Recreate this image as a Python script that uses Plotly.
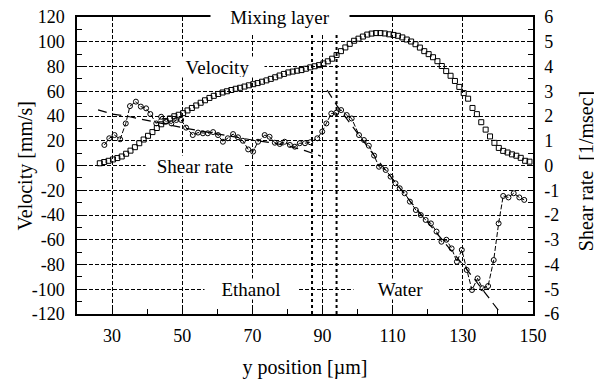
import plotly.graph_objects as go

# ---------------- data ----------------
vel_x = [26.5, 27.75, 29, 30.25, 31.5, 32.75, 34, 35.25, 36.5, 37.75, 39, 40.25, 41.5, 42.75,
         44, 45.25, 46.5, 47.75, 49, 50.25, 51.5, 52.75, 54, 55.25, 56.5, 57.75, 59, 60.25,
         61.5, 62.75, 64, 65.25, 66.5, 67.75, 69, 70.25, 71.5, 72.75, 74, 75.25, 76.5, 77.75,
         79, 80.25, 81.5, 82.75, 84, 85.25, 86.5, 87.75, 89, 90.25, 91.5, 92.75, 94, 95.25,
         96.5, 97.75, 99, 100.25, 101.5, 102.75, 104, 105.25, 106.5, 107.75, 109, 110.25,
         111.5, 112.75, 114, 115.25, 116.5, 117.75, 119, 120.25, 121.5, 122.75, 124, 125.25,
         126.5, 127.75, 129, 130.25, 131.5, 132.75, 134, 135.25, 136.5, 137.75, 139, 140.25,
         141.5, 142.75, 144, 145.25, 146.5, 147.75, 149]
vel_v = [1.8, 2.8, 3.8, 4.9, 6.0, 7.3, 9.5, 12, 14.8, 18, 21, 24, 27, 30.3,
         33.3, 36, 38, 39.8, 41, 42.3, 44.5, 46.5, 48.5, 50.7, 52.7, 54.6, 56.3, 57.8,
         59, 60, 61, 62, 62.8, 63.8, 64.8, 65.7, 66.6, 67.7, 68.8, 70, 71.3, 72.7,
         74, 75.2, 75.9, 76.6, 77.1, 78.2, 79.3, 80.2, 81.1, 82.5, 84.2, 86.3, 89.3, 92.4,
         95.4, 98.3, 100.8, 102.5, 104.2, 105.8, 106.6, 107, 107, 106.7, 106, 105.5,
         104.8, 103.5, 101.8, 100.2, 98, 95.3, 92.4, 90, 87.5, 84.3, 80.4, 76.3,
         72.5, 68.3, 63.5, 58.5, 54, 46.5, 41.5, 35, 29, 23.5, 18.3, 14.2,
         11.8, 10.5, 9, 7.9, 6.2, 3.8, 3.1]

sr_x = [27.8, 29.2, 30.7, 32.3, 33.9, 35.1, 36.8, 38.2, 39.7, 40.9, 42.6, 44.0, 45.4, 46.9,
        48.3, 49.7, 51.1, 53.0, 54.5, 55.9, 57.3, 58.8, 60.2, 61.6, 63.0, 64.5, 65.9, 67.3,
        68.8, 70.2, 71.6, 73.5, 74.9, 76.4, 77.8, 79.2, 80.7, 82.1, 83.5, 85.0, 86.5, 88.5,
        89.9, 91.1, 92.5, 93.9, 95.3, 96.9, 98.3, 100.4, 101.8, 103.2, 104.7, 106.1, 108.0,
        109.4, 110.8, 112.0, 113.4, 114.9, 116.6, 118.0, 119.4, 120.9, 122.5, 123.9, 125.3,
        126.8, 128.3, 129.7, 131.1, 132.6, 134.2, 135.6, 137.2, 138.8, 140.2, 141.5, 143.0,
        144.5, 146.1, 147.5]
sr_y = [0.83, 1.1, 1.23, 1.06, 1.7, 2.4, 2.58, 2.38, 2.31, 2.08, 1.7, 1.97, 1.77, 1.7,
        1.84, 1.84, 1.53, 1.23, 1.33, 1.3, 1.3, 1.35, 1.23, 0.96, 1.1, 1.27, 1.14, 1.0,
        0.65, 0.56, 0.96, 1.23, 1.16, 0.92, 0.87, 0.96, 0.83, 0.76, 0.9, 0.9, 0.94, 1.1,
        1.37, 1.7, 2.1, 2.13, 2.24, 2.04, 1.9, 1.23, 1.03, 0.8, 0.4, -0.05, -0.18,
        -0.45, -0.72, -0.92, -1.12, -1.46, -1.8, -2.0, -2.2, -2.34, -2.67, -3.08, -3.0,
        -3.35, -3.89, -3.41, -4.22, -5.03, -4.56, -4.96, -4.87, -3.82, -2.34, -1.23, -1.29,
        -1.12, -1.29, -1.39]

eth_fit_x = [26.0, 30, 35, 40, 45, 50, 55, 60, 65, 70, 75, 80, 85, 89.5]
eth_fit_y = [2.25, 2.08, 1.97, 1.82, 1.67, 1.53, 1.4, 1.27, 1.15, 1.03, 0.93, 0.8, 0.6, 0.38]

wat_fit_x = [91.3, 94.2, 100, 105, 110, 115, 120, 125, 130, 135, 140.4]
wat_fit_y = [3.05, 2.4, 1.3, 0.35, -0.55, -1.45, -2.3, -3.15, -4.0, -4.9, -5.9]

mixing_bounds = [87, 94]

x_ticks = [30, 50, 70, 90, 110, 130, 150]
x_minor = [40, 60, 80, 100, 120, 140]
v_ticks = [120, 100, 80, 60, 40, 20, 0, -20, -40, -60, -80, -100, -120]
v_minor = [110, 90, 70, 50, 30, 10, -10, -30, -50, -70, -90, -110]
sr_ticks = [6, 5, 4, 3, 2, 1, 0, -1, -2, -3, -4, -5, -6]
sr_minor = [5.5, 4.5, 3.5, 2.5, 1.5, 0.5, -0.5, -1.5, -2.5, -3.5, -4.5, -5.5]

labels = [("Mixing layer", 78, 120, 138, 34),
          ("Velocity", 60.1, 80, 93, 20),
          ("Shear rate", 53.7, 0, 98, 20),
          ("Ethanol", 69.7, -100, 92, 20),
          ("Water", 112.3, -100, 93, 20)]

x_title = "y position [\u00b5m]"
y_title = "Velocity [mm/s]"
y2_title = "Shear rate\u00a0\u00a0[1/msec]"

FONT = "Liberation Serif, Times New Roman, serif"

fig = go.Figure()
fig.add_trace(go.Scatter(x=vel_x, y=vel_v, mode="markers",
                         marker=dict(symbol="square-open", size=5, color="black",
                                     line=dict(width=1, color="black")),
                         showlegend=False))
fig.add_trace(go.Scatter(x=sr_x, y=sr_y, yaxis="y2", mode="lines+markers",
                         line=dict(color="black", width=1, dash="5px,2px"),
                         marker=dict(symbol="circle-open", size=5, color="black",
                                     line=dict(width=1, color="black")),
                         showlegend=False))
fig.add_trace(go.Scatter(x=eth_fit_x, y=eth_fit_y, yaxis="y2", mode="lines",
                         line=dict(color="black", width=1.2, dash="9px,6px"),
                         showlegend=False))
fig.add_trace(go.Scatter(x=wat_fit_x, y=wat_fit_y, yaxis="y2", mode="lines",
                         line=dict(color="black", width=1.2, dash="9px,6px"),
                         showlegend=False))

for xb in mixing_bounds:
    fig.add_shape(type="line", x0=xb, x1=xb, y0=-120, y1=120, xref="x", yref="y",
                  line=dict(color="black", width=2, dash="dot"))

for txt, xx, yy, w, h in labels:
    fig.add_annotation(text=txt, x=xx, y=yy, xref="x", yref="y", showarrow=False,
                       bgcolor="white", width=w, height=h, borderpad=0,
                       font=dict(family=FONT, size=19, color="black"))

# axis titles placed as paper-anchored annotations
fig.add_annotation(text=y_title, xref="paper", yref="paper", x=-0.112, y=0.5,
                   textangle=-90, showarrow=False, xanchor="center", yanchor="middle",
                   font=dict(family=FONT, size=20, color="black"))
fig.add_annotation(text=y2_title, xref="paper", yref="paper", x=1.118, y=0.48,
                   textangle=-90, showarrow=False, xanchor="center", yanchor="middle",
                   font=dict(family=FONT, size=20, color="black"))

# page body has an 8px margin: size the figure so that the plot area lands where it should
fig.update_layout(
    width=594, height=371,
    margin=dict(l=69, r=69, t=9, b=65),
    paper_bgcolor="white", plot_bgcolor="white",
    font=dict(family=FONT, size=18, color="black"),
    xaxis=dict(range=[20, 150], tickvals=x_ticks, ticktext=[str(t) for t in x_ticks],
               ticks="inside", ticklen=6, tickcolor="black", automargin=False,
               showline=True, linecolor="black", linewidth=1.5, mirror=True,
               showgrid=True, gridcolor="black", gridwidth=1, griddash="4px,2px",
               zeroline=False, ticklabelstandoff=5, ticklabeloverflow="allow",
               minor=dict(tickvals=x_minor, ticks="inside", ticklen=5, tickcolor="black",
                          showgrid=False),
               title=dict(text=x_title, font=dict(size=20), standoff=16)),
    yaxis=dict(range=[-120, 120], tickvals=v_ticks, ticktext=[str(t) for t in v_ticks],
               ticks="inside", ticklen=6, tickcolor="black", automargin=False,
               showline=True, linecolor="black", linewidth=1.5,
               showgrid=True, gridcolor="black", gridwidth=1, griddash="4px,2px",
               zeroline=False, ticklabelstandoff=7, ticklabeloverflow="allow",
               minor=dict(tickvals=v_minor, ticks="inside", ticklen=5, tickcolor="black",
                          showgrid=False)),
    yaxis2=dict(range=[-6, 6], overlaying="y", side="right", automargin=False,
                tickvals=sr_ticks, ticktext=[str(t) for t in sr_ticks],
                ticks="inside", ticklen=6, tickcolor="black",
                showline=True, linecolor="black", linewidth=1.5,
                showgrid=False, zeroline=False, ticklabelstandoff=6, ticklabeloverflow="allow",
                minor=dict(tickvals=sr_minor, ticks="inside", ticklen=5, tickcolor="black",
                           showgrid=False)),
)

fig.write_html("out.html")
